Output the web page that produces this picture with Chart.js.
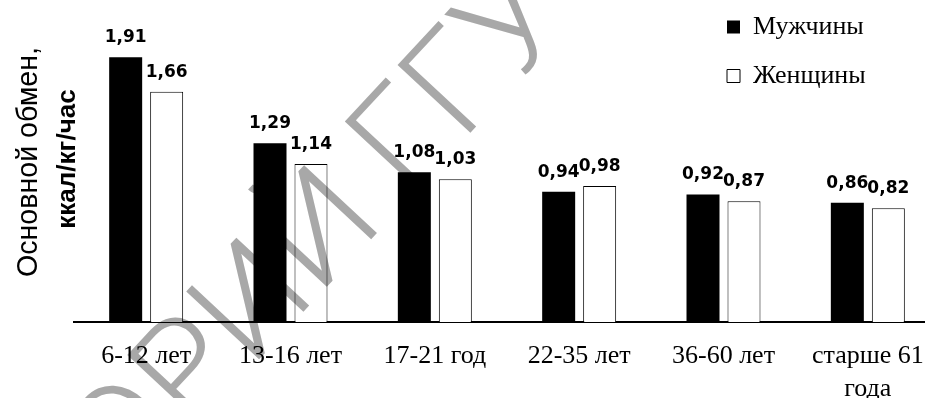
<!DOCTYPE html>
<html lang="ru">
<head>
<meta charset="utf-8">
<title>Основной обмен</title>
<script src="https://cdn.jsdelivr.net/npm/chart.js@4.4.1/dist/chart.umd.min.js"></script>
<style>
  html, body { margin: 0; padding: 0; background: #fff; overflow: hidden; }
  #wrap { width: 945px; height: 424px; background: #fff; }
</style>
</head>
<body>
<div id="wrap"><canvas id="grafico" width="945" height="424"></canvas></div>
<script>
/* Основной обмен по возрастным группам — мужчины / женщины */

const COR_PRETO = "#000";
const COR_BRANCO = "#fff";
const COR_MARCA = "#a8a8a8";

const categorias = ["6-12 лет", "13-16 лет", "17-21 год", "22-35 лет", "36-60 лет", ["старше 61", "года"]];
const homens   = [1.91, 1.29, 1.08, 0.94, 0.92, 0.86];
const mulheres = [1.66, 1.14, 1.03, 0.98, 0.87, 0.82];
const tituloY  = ["Основной обмен,", "ккал/кг/час"];
const marcaDagua = "ТОРИЙ ГГУ ИМЕНИ";

// fundo branco + marca d'água cinza (multiply: o preto continua preto)
const fundoMarca = {
  id: "fundoMarca",
  beforeDraw(chart) {
    const ctx = chart.ctx;
    ctx.save();
    ctx.fillStyle = COR_BRANCO;
    ctx.fillRect(0, 0, chart.width, chart.height);
    ctx.restore();
  },
  afterDraw(chart) {
    const ctx = chart.ctx;
    ctx.save();
    ctx.globalCompositeOperation = "multiply";
    ctx.translate(71, 561);
    ctx.rotate(-47 * Math.PI / 180);
    ctx.font = "300 140px Roboto, 'Liberation Sans'";
    ctx.fillStyle = COR_MARCA;
    ctx.textAlign = "left";
    ctx.textBaseline = "alphabetic";
    ctx.fillText(marcaDagua, 0, 0);
    ctx.restore();
  }
};

// valores acima das barras, com vírgula decimal
const rotulosValores = {
  id: "rotulosValores",
  afterDatasetsDraw(chart) {
    const ctx = chart.ctx;
    ctx.save();
    ctx.font = "bold 17px 'DejaVu Sans'";
    ctx.fillStyle = COR_PRETO;
    ctx.textAlign = "center";
    ctx.textBaseline = "alphabetic";
    chart.data.datasets.forEach((ds, i) => {
      chart.getDatasetMeta(i).data.forEach((bar, j) => {
        ctx.fillText(ds.data[j].toFixed(2).replace(".", ","), bar.x, bar.y - 15);
      });
    });
    ctx.restore();
  }
};

// título do eixo Y em duas linhas com fontes diferentes
const tituloEixo = {
  id: "tituloEixo",
  afterDatasetsDraw(chart) {
    const ctx = chart.ctx;
    ctx.save();
    ctx.fillStyle = COR_PRETO;
    ctx.textAlign = "center";
    ctx.textBaseline = "alphabetic";

    ctx.save();
    ctx.translate(37, 162);
    ctx.rotate(-Math.PI / 2);
    ctx.font = "30px 'Liberation Sans'";
    ctx.fillText(tituloY[0], 0, 0, 230);
    ctx.restore();

    ctx.save();
    ctx.translate(75, 159);
    ctx.rotate(-Math.PI / 2);
    ctx.font = "bold 26px 'Liberation Sans'";
    ctx.fillText(tituloY[1], 0, 0, 142);
    ctx.restore();

    ctx.restore();
  }
};

// legenda no canto superior direito
const posLegenda = {
  id: "posLegenda",
  afterLayout(chart) {
    const l = chart.legend;
    const w = l.width, h = l.height;
    l.left = 704; l.right = l.left + w;
    l.top = -9;   l.bottom = l.top + h;
  }
};

new Chart(document.getElementById("grafico"), {
  type: "bar",
  data: {
    labels: categorias,
    datasets: [
      {
        label: "Мужчины",
        data: homens,
        backgroundColor: COR_PRETO,
        borderColor: COR_PRETO,
        borderWidth: 0,
        barPercentage: 0.805,
        categoryPercentage: 0.568,
      },
      {
        label: "Женщины",
        data: mulheres,
        backgroundColor: COR_BRANCO,
        borderColor: COR_PRETO,
        borderWidth: 1,
        barPercentage: 0.805,
        categoryPercentage: 0.568,
      }
    ]
  },
  options: {
    responsive: false,
    animation: false,
    devicePixelRatio: 1,
    layout: { padding: { left: 74, right: 5, top: 17, bottom: 0 } },
    plugins: {
      tooltip: { enabled: false },
      legend: {
        position: "chartArea",
        align: "start",
        labels: {
          boxWidth: 13,
          boxHeight: 13,
          padding: 23,
          color: COR_PRETO,
          font: { family: "'Liberation Serif'", size: 26 },
        }
      }
    },
    scales: {
      x: {
        grid: { display: false, drawTicks: false },
        border: { display: true, color: COR_PRETO, width: 2 },
        ticks: {
          color: COR_PRETO,
          padding: 18,
          maxRotation: 0,
          autoSkip: false,
          font: { family: "'Liberation Serif'", size: 26, lineHeight: 1.27 },
        }
      },
      y: {
        display: false,
        min: 0,
        max: 2.2,
      }
    }
  },
  plugins: [fundoMarca, rotulosValores, tituloEixo, posLegenda]
});
</script>
</body>
</html>
